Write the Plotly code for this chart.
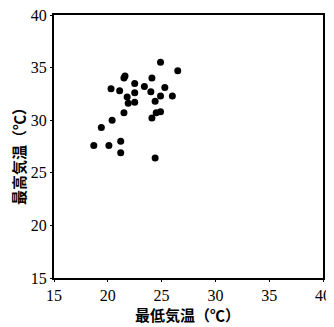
import plotly.graph_objects as go

min_temp = [18.7, 19.4, 20.3, 20.4, 20.1, 21.1, 21.2, 21.2, 21.5, 21.6, 21.5, 21.8,
            21.9, 22.5, 22.5, 22.5, 23.4, 24.0, 24.1, 24.1, 24.4, 24.5, 24.9, 24.4,
            24.9, 24.9, 25.3, 26.0, 26.5]
max_temp = [27.6, 29.3, 33.0, 30.0, 27.6, 32.8, 28.0, 26.9, 34.0, 34.2, 30.7, 32.2,
            31.6, 33.5, 32.6, 31.7, 33.2, 32.7, 34.0, 30.2, 31.8, 30.7, 30.8, 26.4,
            35.5, 32.3, 33.1, 32.3, 34.7]

xlabel = "最低気温（℃）"
ylabel = "最高気温（℃）"
ticks = [15, 20, 25, 30, 35, 40]

fig = go.Figure(go.Scatter(
    x=min_temp, y=max_temp, mode="markers",
    marker=dict(color="black", size=7),
))

axis_common = dict(
    range=[15, 40], tickvals=ticks, showgrid=False, zeroline=False,
    showline=True, linecolor="black", linewidth=2, mirror=True,
    ticks="outside", ticklen=2, tickcolor="black", automargin=False,
    ticklabeloverflow="allow",
    tickfont=dict(family="Liberation Serif", size=16, color="black"),
)

W, H = 326, 319
L, R, T, B = 46, 11, 7, 49
pw, ph = W - L - R, H - T - B

title_font = dict(family="Noto Sans CJK JP", size=15, color="black", weight=700)

fig.update_layout(
    width=W, height=H,
    margin=dict(l=L, r=R, t=T, b=B, autoexpand=False),
    paper_bgcolor="white", plot_bgcolor="white",
    showlegend=False,
    xaxis=axis_common,
    yaxis=axis_common,
    annotations=[
        dict(text=xlabel, xref="paper", yref="paper",
             x=(179 - L) / pw, y=-(306 - (T + ph)) / ph,
             xanchor="center", yanchor="middle", showarrow=False, font=title_font),
        dict(text=ylabel, xref="paper", yref="paper",
             x=-(L - 10) / pw, y=1 - (145 - T) / ph, textangle=-90,
             xanchor="center", yanchor="middle", showarrow=False, font=title_font),
    ],
)

fig.write_html("out.html")
